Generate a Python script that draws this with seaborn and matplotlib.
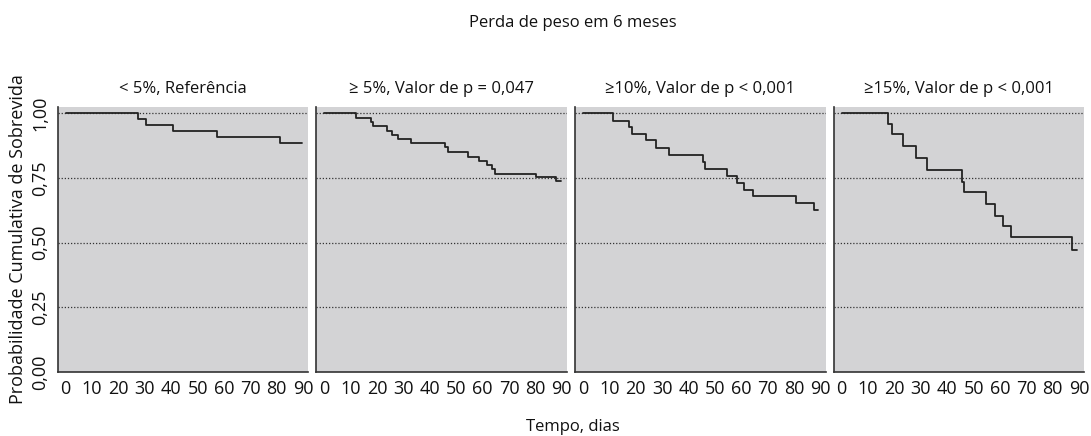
import pandas as pd
import matplotlib.pyplot as plt
import seaborn as sns

# Kaplan-Meier curves
titulos = ["< 5%, Referência", "≥ 5%, Valor de p = 0,047",
           "≥10%, Valor de p < 0,001", "≥15%, Valor de p < 0,001"]

tempo_ref = [0, 27.2, 30.3, 40.5, 57.2, 81.4, 89.5]
surv_ref = [1.0, 0.979, 0.956, 0.932, 0.908, 0.885, 0.885]

tempo_5 = [0, 11.9, 17.7, 18.6, 23.9, 25.8, 28.0, 32.8, 45.8, 46.8, 54.6, 58.7,
           61.5, 63.7, 64.6, 80.2, 87.7, 89.5]
surv_5 = [1.0, 0.981, 0.967, 0.951, 0.932, 0.915, 0.901, 0.886, 0.868, 0.850,
          0.832, 0.817, 0.799, 0.783, 0.767, 0.755, 0.738, 0.738]

tempo_10 = [0, 11.4, 17.4, 18.6, 23.7, 27.6, 32.4, 45.4, 46.4, 54.5, 58.3,
            60.9, 64.5, 80.7, 87.4, 89.0]
surv_10 = [1.0, 0.972, 0.946, 0.918, 0.895, 0.865, 0.837, 0.812, 0.783,
           0.759, 0.731, 0.705, 0.681, 0.653, 0.626, 0.626]

tempo_15 = [0, 17.4, 18.9, 23.4, 28.0, 32.4, 45.7, 46.4, 54.7, 58.2, 61.3,
            64.3, 87.4, 89.1]
surv_15 = [1.0, 0.960, 0.918, 0.874, 0.826, 0.782, 0.736, 0.696, 0.649,
           0.603, 0.563, 0.521, 0.473, 0.473]

y_ticks = [0, 0.25, 0.5, 0.75, 1.0]
y_labels = ["0,00", "0,25", "0,50", "0,75", "1,00"]
x_ticks = [0, 10, 20, 30, 40, 50, 60, 70, 80, 90]

curvas = [(tempo_ref, surv_ref), (tempo_5, surv_5),
          (tempo_10, surv_10), (tempo_15, surv_15)]

sns.set_style("white")
plt.rcParams['font.family'] = ['Open Sans', 'DejaVu Sans']

fig, axes = plt.subplots(1, 4, figsize=(10.91, 4.36), dpi=100, sharey=True)
fig.subplots_adjust(left=0.053, right=0.994, bottom=0.147, top=0.755, wspace=0.032)

for ax, titulo, (t, s) in zip(axes, titulos, curvas):
    df = pd.DataFrame({"tempo": t, "surv": s})
    ax.set_facecolor("#d3d3d5")
    for g in y_ticks[1:]:
        ax.axhline(g, color="#333333", lw=0.9, ls=(0, (1, 1.5)), zorder=1)
    sns.lineplot(data=df, x="tempo", y="surv", drawstyle="steps-post",
                 color="#222222", lw=1.3, ax=ax, zorder=3)
    ax.set_xlim(-3, 92)
    ax.set_ylim(0, 1.025)
    ax.set_xticks(x_ticks)
    ax.set_yticks(y_ticks)
    ax.set_title(titulo, fontsize=12, pad=10, color="#111111")
    ax.set_xlabel("")
    ax.set_ylabel("")
    for side in ["top", "right"]:
        ax.spines[side].set_visible(False)
    for side in ["left", "bottom"]:
        ax.spines[side].set_color("#333333")
        ax.spines[side].set_linewidth(1.2)
    ax.tick_params(axis="both", direction="out", length=4, width=1,
                   color="#333333", labelsize=13, labelcolor="#111111", pad=2)

axes[0].set_yticklabels(y_labels, rotation=90, va="center")
axes[0].set_ylabel("Probabilidade Cumulativa de Sobrevida", fontsize=13,
                   color="#111111", labelpad=3)

fig.text(0.525, 0.948, "Perda de peso em 6 meses", ha="center", va="center",
         fontsize=12, color="#111111")
fig.text(0.525, 0.02, "Tempo, dias", ha="center", va="center",
         fontsize=12, color="#111111")

fig.savefig("out.png", dpi=100)
